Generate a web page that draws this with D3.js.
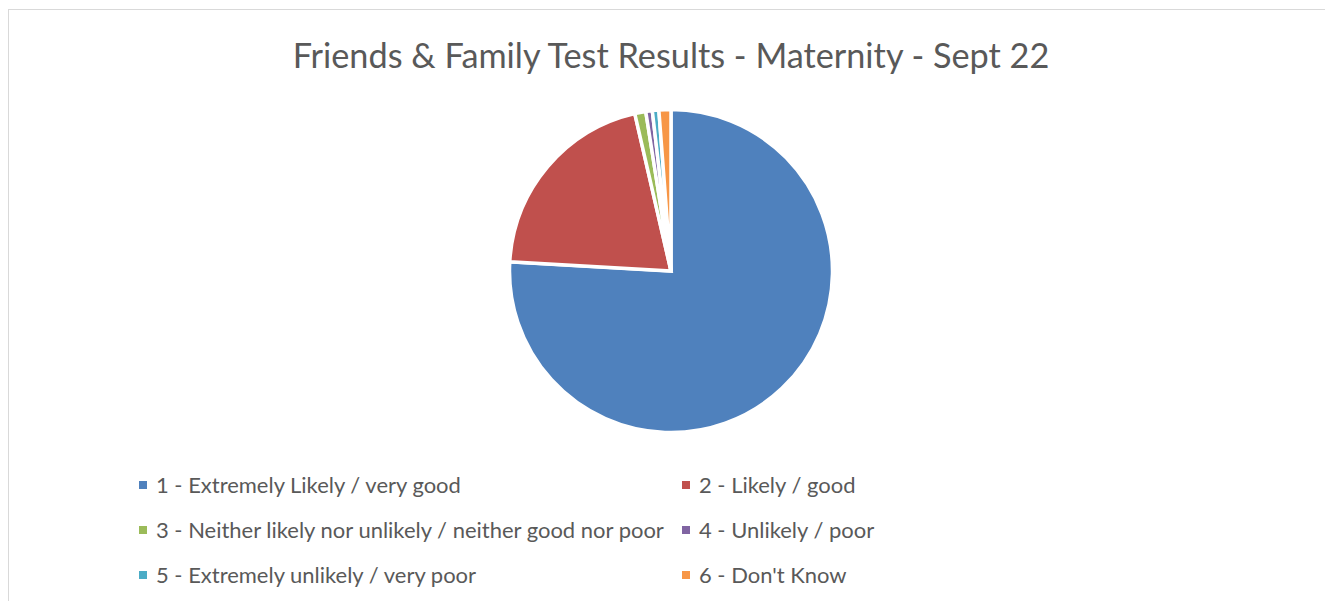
<!DOCTYPE html>
<html>
<head>
<meta charset="utf-8">
<script src="https://cdn.jsdelivr.net/npm/d3@7"></script>
<style>
  html, body { margin: 0; padding: 0; background: #fff; }
  svg { display: block; }
  text { font-family: Lato, "Open Sans", sans-serif; fill: #595959; }
</style>
</head>
<body>
<div id="chart"></div>
<script>
// data (percent of responses)
var categories = [
  "1 - Extremely Likely / very good",
  "2 - Likely / good",
  "3 - Neither likely nor unlikely / neither good nor poor",
  "4 - Unlikely / poor",
  "5 - Extremely unlikely / very poor",
  "6 - Don't Know"
];
var values = [75.9, 20.5, 1.1, 0.65, 0.65, 1.2];
var colors = ["#4F81BD", "#C0504D", "#9BBB59", "#8064A2", "#4BACC6", "#F79646"];
var title = "Friends & Family Test Results - Maternity - Sept 22";

var width = 1325,
    height = 601;

var svg = d3.select("#chart").append("svg")
    .attr("width", width)
    .attr("height", height);

// chart area frame (runs off the right and bottom of the view)
svg.append("rect")
    .attr("x", 8.5)
    .attr("y", 9.5)
    .attr("width", 1330)
    .attr("height", 600)
    .attr("fill", "none")
    .attr("stroke", "#d9d9d9")
    .attr("stroke-width", 1);

// title, sized so it spans the same width as the original
var titleText = svg.append("text")
    .attr("x", 671)
    .attr("y", 68)
    .attr("text-anchor", "middle")
    .style("font-size", "30px")
    .text(title);
var tw = titleText.node().getComputedTextLength();
titleText.style("font-size", (30 * 757 / tw) + "px");

// pie
var cx = 671, cy = 271, radius = 161.5;

var pie = d3.pie()
    .sort(null)
    .value(function(d) { return d; });

var arc = d3.arc()
    .innerRadius(0)
    .outerRadius(radius);

var g = svg.append("g")
    .attr("transform", "translate(" + cx + "," + cy + ")");

g.selectAll("path")
    .data(pie(values))
    .enter().append("path")
    .attr("d", arc)
    .attr("fill", function(d, i) { return colors[i]; })
    .attr("stroke", "#fff")
    .attr("stroke-width", 3.5)
    .attr("stroke-linejoin", "miter");

// legend, two columns, three rows
var colX = [139, 682],
    rowY = [485, 530, 575];

var legend = svg.selectAll(".legend")
    .data(categories)
    .enter().append("g")
    .attr("class", "legend")
    .attr("transform", function(d, i) {
      return "translate(" + colX[i % 2] + "," + rowY[Math.floor(i / 2)] + ")";
    });

legend.append("rect")
    .attr("x", 0)
    .attr("y", -4)
    .attr("width", 8)
    .attr("height", 8)
    .attr("fill", function(d, i) { return colors[i]; });

var labels = legend.append("text")
    .attr("x", 17)
    .attr("dy", "0.35em")
    .style("font-size", "20px")
    .text(function(d) { return d; });

var lw = labels.nodes()[0].getComputedTextLength();
labels.style("font-size", (20 * 305 / lw) + "px");
</script>
</body>
</html>
